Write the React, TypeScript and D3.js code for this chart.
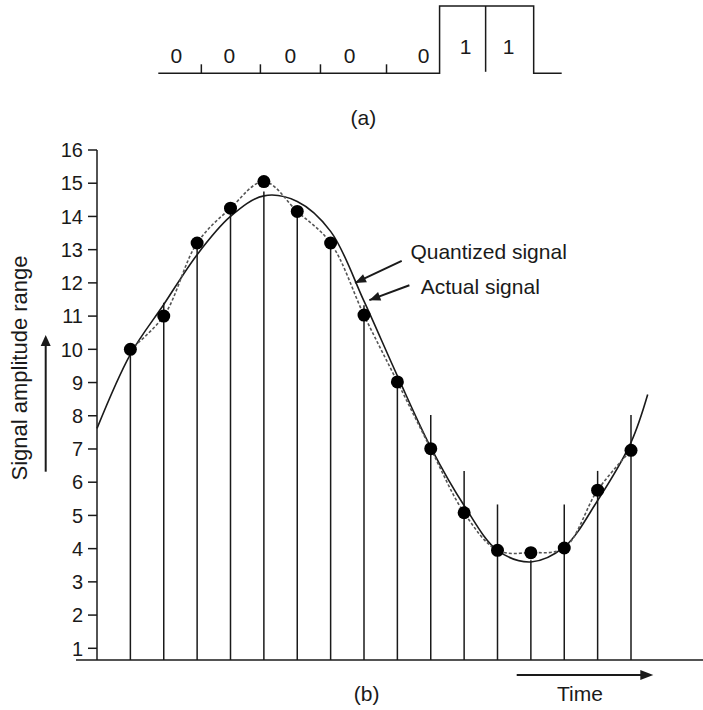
import React from "react";
import * as d3 from "d3";

// ---- Part (a): bit pattern ----
const bits = ["0", "0", "0", "0", "0", "1", "1"];
const bitEdges = [0, 0.43, 1.02, 1.62, 2.28, 2.81, 3.27, 3.75, 4.03];
const bitLabelPos = [0.18, 0.71, 1.32, 1.91, 2.65, 3.07, 3.5];

// ---- Part (b): sampled signal ----
const yTicks = [1, 2, 3, 4, 5, 6, 7, 8, 9, 10, 11, 12, 13, 14, 15, 16];
const sampleIdx = [1, 2, 3, 4, 5, 6, 7, 8, 9, 10, 11, 12, 13, 14, 15, 16];
const quantized = [10, 11, 13.2, 14.25, 15.05, 14.15, 13.2, 11.03, 9.02, 7.01, 5.08, 3.95, 3.88, 4.02, 5.76, 6.96];
const stemTops = [9.85, 11.4, 13.1, 14.1, 14.75, 14.1, 13.1, 11.33, 8.9, 8.02, 6.34, 5.33, 3.65, 5.33, 6.34, 8.02];
const actualT = [0, 1, 2, 3, 4, 5, 6, 7, 8, 9, 10, 11, 12, 13, 14, 15, 16, 16.5];
const actualV = [7.62, 9.85, 11.35, 12.85, 14.0, 14.62, 14.45, 13.55, 11.45, 9.2, 7.05, 5.3, 3.95, 3.6, 4.05, 5.45, 7.2, 8.64];

export default function App() {
  const x = d3.scaleLinear().domain([0, 16]).range([97, 631]);
  const y = d3.scaleLinear().domain([1, 16]).range([648.3, 150]);
  const baseV = 0.65;
  const xa = d3.scaleLinear().domain([0, 4.03]).range([158.3, 561.7]);
  const aLow = 73.3;
  const aHigh = 6;

  const font = "Liberation Sans, Arial, Helvetica, sans-serif";
  const ink = "#1a1a1a";

  const actualLine = d3
    .line<number>()
    .x((_, i) => x(actualT[i]))
    .y((d) => y(d))
    .curve(d3.curveCatmullRom.alpha(0.5))(actualV) as string;

  const quantLine = d3
    .line<number>()
    .x((_, i) => x(sampleIdx[i]))
    .y((d) => y(d))
    .curve(d3.curveCatmullRom.alpha(0.5))(quantized) as string;

  const firstOne = bits.indexOf("1");
  const lastOne = bits.lastIndexOf("1");
  const pulsePath =
    `M${xa(bitEdges[0])},${aLow}` +
    `L${xa(bitEdges[firstOne])},${aLow}` +
    `L${xa(bitEdges[firstOne])},${aHigh}` +
    `L${xa(bitEdges[lastOne + 1])},${aHigh}` +
    `L${xa(bitEdges[lastOne + 1])},${aLow}` +
    `L${xa(bitEdges[bitEdges.length - 1])},${aLow}`;

  const arrowHead = (x1: number, y1: number, x2: number, y2: number, len: number, half: number) => {
    const ang = Math.atan2(y2 - y1, x2 - x1);
    const bx = x2 - len * Math.cos(ang);
    const by = y2 - len * Math.sin(ang);
    const px = -Math.sin(ang) * half;
    const py = Math.cos(ang) * half;
    return `M${x2},${y2}L${bx + px},${by + py}L${bx - px},${by - py}Z`;
  };

  const qTail = [x(9.13), y(12.66)];
  const qTip = [x(7.73), y(12.0)];
  const aTail = [x(9.36), y(11.93)];
  const aTip = [x(8.16), y(11.48)];

  const yArrowX = 45.7;
  const yArrowBottom = 471.7;
  const yArrowTop = 335;
  const timeY = 675;
  const timeX1 = 516.7;
  const timeX2 = 653.3;

  return (
    <svg
      width={703}
      height={710}
      style={{ position: "absolute", left: 0, top: 0, background: "#fff" }}
      fontFamily={font}
    >
      <rect width={703} height={710} fill="#fff" />
      {/* Part (a) */}
      <path d={pulsePath} fill="none" stroke={ink} strokeWidth={1.5} />
      {bitEdges.slice(1, firstOne).map((e, i) => (
        <line key={"t" + i} x1={xa(e)} x2={xa(e)} y1={aLow} y2={aLow - 9} stroke={ink} strokeWidth={1.5} />
      ))}
      {bitEdges.slice(firstOne + 1, lastOne + 1).map((e, i) => (
        <line key={"d" + i} x1={xa(e)} x2={xa(e)} y1={aHigh} y2={aLow - 1.5} stroke={ink} strokeWidth={1.5} />
      ))}
      {bits.map((b, i) => (
        <text
          key={"b" + i}
          x={xa(bitLabelPos[i])}
          y={b === "1" ? 54.3 : 63.3}
          textAnchor="middle"
          fontSize={21}
          fill={ink}
        >
          {b}
        </text>
      ))}
      <text x={363.3} y={125} textAnchor="middle" fontSize={21} fill={ink}>
        (a)
      </text>

      {/* Part (b) axes */}
      <line x1={x(0)} x2={x(0)} y1={y(16)} y2={y(baseV)} stroke={ink} strokeWidth={1.5} />
      <line x1={x(-0.63)} x2={703} y1={y(baseV)} y2={y(baseV)} stroke={ink} strokeWidth={1.5} />
      {yTicks.map((t) => (
        <g key={"yt" + t}>
          <line x1={x(0) - 9} x2={x(0)} y1={y(t)} y2={y(t)} stroke={ink} strokeWidth={1.5} />
          <text x={x(0) - 14} y={y(t)} dy="0.36em" textAnchor="end" fontSize={20} fill={ink}>
            {t}
          </text>
        </g>
      ))}

      {/* sample stems */}
      {sampleIdx.map((k, i) => (
        <line key={"s" + k} x1={x(k)} x2={x(k)} y1={y(baseV)} y2={y(stemTops[i])} stroke={ink} strokeWidth={1.5} />
      ))}

      {/* actual signal */}
      <path d={actualLine} fill="none" stroke={ink} strokeWidth={1.6} />
      {/* quantized signal */}
      <path d={quantLine} fill="none" stroke="#555" strokeWidth={1.6} strokeDasharray="3,2" />

      {/* sample dots */}
      {sampleIdx.map((k, i) => (
        <circle key={"c" + k} cx={x(k)} cy={y(quantized[i])} r={6.5} fill="#000" />
      ))}

      {/* annotations */}
      <line x1={qTail[0]} y1={qTail[1]} x2={qTip[0]} y2={qTip[1]} stroke={ink} strokeWidth={2} />
      <path d={arrowHead(qTail[0], qTail[1], qTip[0], qTip[1], 11, 4.5)} fill={ink} />
      <line x1={aTail[0]} y1={aTail[1]} x2={aTip[0]} y2={aTip[1]} stroke={ink} strokeWidth={2} />
      <path d={arrowHead(aTail[0], aTail[1], aTip[0], aTip[1], 11, 4.5)} fill={ink} />
      <text x={x(9.39)} y={y(12.71)} fontSize={21} fill={ink}>
        Quantized signal
      </text>
      <text x={x(9.7)} y={y(11.66)} fontSize={21} fill={ink}>
        Actual signal
      </text>

      {/* y label + arrow */}
      <text
        transform={`translate(27,368) rotate(-90)`}
        textAnchor="middle"
        fontSize={22}
        fill={ink}
      >
        Signal amplitude range
      </text>
      <line x1={yArrowX} x2={yArrowX} y1={yArrowBottom} y2={yArrowTop + 8} stroke={ink} strokeWidth={2} />
      <path d={arrowHead(yArrowX, yArrowBottom, yArrowX, yArrowTop, 11, 5)} fill={ink} />

      {/* time arrow */}
      <line x1={timeX1} x2={timeX2 - 8} y1={timeY} y2={timeY} stroke={ink} strokeWidth={2.2} />
      <path d={arrowHead(timeX1, timeY, timeX2, timeY, 13, 5)} fill={ink} />
      <text x={580} y={700.5} textAnchor="middle" fontSize={21} fill={ink}>
        Time
      </text>
      <text x={366.7} y={701} textAnchor="middle" fontSize={21} fill={ink}>
        (b)
      </text>
    </svg>
  );
}
